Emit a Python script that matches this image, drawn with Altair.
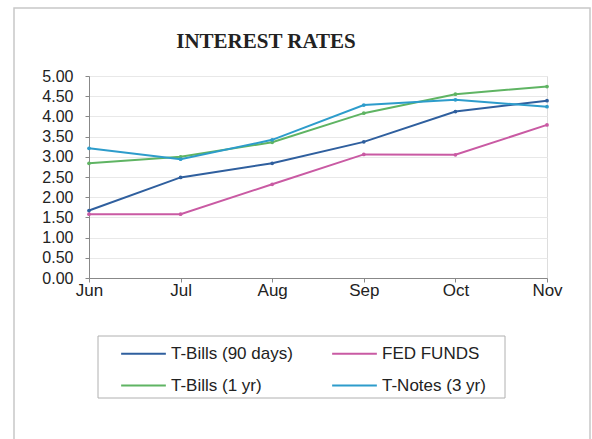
import altair as alt
import pandas as pd

months = ["Jun", "Jul", "Aug", "Sep", "Oct", "Nov"]
series_names = ["T-Bills (90 days)", "FED FUNDS", "T-Bills (1 yr)", "T-Notes (3 yr)"]
tbills_90 = [1.67, 2.49, 2.84, 3.37, 4.12, 4.39]
fed_funds = [1.58, 1.58, 2.32, 3.06, 3.05, 3.79]
tbills_1yr = [2.84, 3.00, 3.36, 4.08, 4.55, 4.74]
tnotes_3yr = [3.21, 2.94, 3.42, 4.28, 4.41, 4.24]
colors = ["#2f5f9e", "#c95aa3", "#5fb463", "#2d9ccb"]
y_ticks = [0, 0.5, 1, 1.5, 2, 2.5, 3, 3.5, 4, 4.5, 5]
title_text = "INTEREST RATES"

rows = []
for name, vals in zip(series_names, [tbills_90, fed_funds, tbills_1yr, tnotes_3yr]):
    for m, v in zip(months, vals):
        rows.append({"Month": m, "Series": name, "Rate": v})
df = pd.DataFrame(rows)

# legend fills column by column, so order entries for a row-wise reading
legend_order = [series_names[0], series_names[2], series_names[1], series_names[3]]
legend_colors = [colors[0], colors[2], colors[1], colors[3]]

W, H = 458, 202
L, T = 89, 76

one = pd.DataFrame({"a": [0]})

frame = alt.Chart(one).mark_rect(
    filled=False, stroke="#c8c8c8", strokeWidth=1.5
).encode(
    x=alt.value(14 - L), x2=alt.value(590 - L),
    y=alt.value(8 - T), y2=alt.value(460 - T),
)

legend_box = alt.Chart(one).mark_rect(
    fill="white", stroke="#b0b0b0", strokeWidth=1
).encode(
    x=alt.value(98 - L), x2=alt.value(505 - L),
    y=alt.value(336 - T), y2=alt.value(398 - T),
)

title = alt.Chart(one).mark_text(
    text=title_text, font="Liberation Serif", fontSize=21, fontWeight="bold",
    color="#222", align="center", baseline="alphabetic"
).encode(x=alt.value(266 - L), y=alt.value(48 - T))

lines = alt.Chart(df).mark_line(
    strokeWidth=2, point=alt.OverlayMarkDef(size=14, filled=True)
).encode(
    x=alt.X("Month:N", sort=months, title=None,
            scale=alt.Scale(type="point", padding=0),
            axis=alt.Axis(labelAngle=0, labelFont="Liberation Sans", labelFontSize=17,
                          labelColor="#222", tickSize=4, tickColor="#888",
                          domainColor="#888", labelPadding=0, grid=False)),
    y=alt.Y("Rate:Q", title=None, scale=alt.Scale(domain=[0, 5], nice=False),
            axis=alt.Axis(values=y_ticks, format=".2f", labelFont="Liberation Sans",
                          labelFontSize=16, labelColor="#222", tickSize=4,
                          tickColor="#888", domainColor="#888", labelPadding=12,
                          gridColor="#e8e8e8", gridWidth=1)),
    color=alt.Color("Series:N", sort=legend_order,
                    scale=alt.Scale(domain=legend_order, range=legend_colors),
                    legend=alt.Legend(title=None, orient="none", columns=2,
                                      legendX=122 - L - 2, legendY=336 - T - 6,
                                      symbolType="stroke", symbolSize=2000,
                                      symbolStrokeWidth=2, labelFont="Liberation Sans",
                                      labelFontSize=17, labelColor="#222",
                                      columnPadding=35, rowPadding=0,
                                      padding=0)),
)

chart = alt.layer(frame, legend_box, title, lines).properties(
    width=W, height=H,
    autosize=alt.AutoSizeParams(type="none"),
    padding={"left": L, "top": T, "right": 592 - L - W, "bottom": 439 - T - H},
).configure_view(stroke=None).configure(background="white")

chart.save("out.html", embed_options={"renderer": "svg", "actions": False})
